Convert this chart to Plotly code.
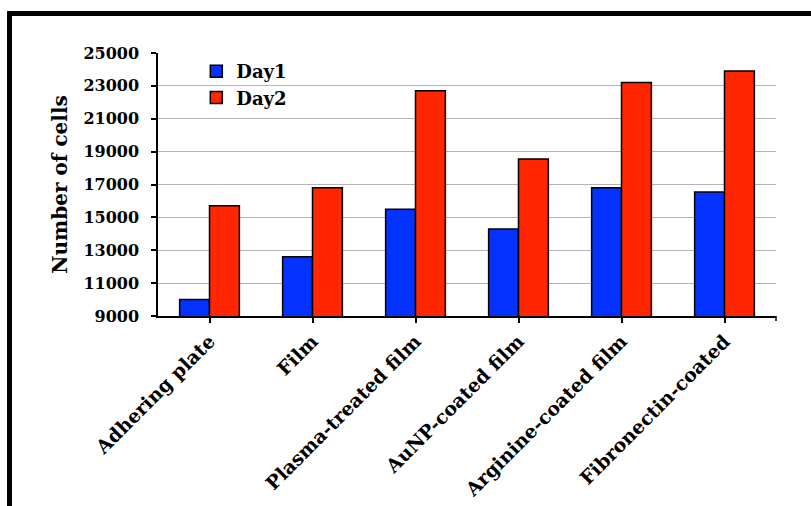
import plotly.graph_objects as go

categories = ["Adhering plate", "Film", "Plasma-treated film",
              "AuNP-coated film", "Arginine-coated film", "Fibronectin-coated"]
day1 = [10000, 12600, 15500, 14300, 16800, 16550]
day2 = [15700, 16800, 22700, 18550, 23200, 23900]
y_ticks = [9000, 11000, 13000, 15000, 17000, 19000, 21000, 23000, 25000]

FONT = "DejaVu Serif"
W, H = 811, 506
L, R, T, B = 158, 35, 53, 190

fig = go.Figure()
fig.add_trace(go.Bar(name="Day1", x=categories, y=day1,
                     marker=dict(color="#0433FF", line=dict(color="black", width=1.5))))
fig.add_trace(go.Bar(name="Day2", x=categories, y=day2,
                     marker=dict(color="#FF2600", line=dict(color="black", width=1.5))))

pw = W - L - R
ph = H - T - B
# outer black frame running off the right and bottom edges
fig.add_shape(type="rect", xref="paper", yref="paper",
              x0=(9.5 - L) / pw, x1=(W + 20 - L) / pw,
              y0=-(H + 20 - T - ph) / ph, y1=(H - B - 13.5) / ph,
              line=dict(color="black", width=5), fillcolor="rgba(0,0,0,0)", layer="above")
# closing tick at the right end of the category axis
fig.add_shape(type="line", xref="paper", yref="paper",
              x0=1, x1=1, y0=0, y1=-5 / ph,
              line=dict(color="black", width=1.5))

fig.update_layout(
    width=W, height=H,
    margin=dict(l=L, r=R, t=T, b=B),
    paper_bgcolor="white", plot_bgcolor="white",
    barmode="group", bargap=0.42, bargroupgap=0,
    font=dict(family=FONT, size=15, color="black", weight="bold"),
    showlegend=True,
    legend=dict(x=0.062, y=1.0, xanchor="left", yanchor="top",
                bgcolor="rgba(0,0,0,0)", font=dict(size=18, weight="bold"),
                tracegroupgap=0, itemwidth=30),
    xaxis=dict(showline=True, linecolor="black", linewidth=1.5,
               ticks="outside", ticklen=5, tickcolor="black", tickwidth=1.5,
               tickangle=-45, tickfont=dict(size=19, weight="bold"),
               showgrid=False, automargin=False),
    yaxis=dict(range=[9000, 25000], tickvals=y_ticks,
               ticktext=[str(v) for v in y_ticks],
               showline=True, linecolor="black", linewidth=1.5,
               ticks="outside", ticklen=5, tickcolor="black", tickwidth=1.5,
               tickfont=dict(size=16, weight="bold"), ticklabelstandoff=9,
               showgrid=True, gridcolor="#B4B4B4", gridwidth=1.2,
               zeroline=False, automargin=False,
               title=dict(text="Number of cells", font=dict(size=20, weight="bold"),
                          standoff=10)),
)

fig.write_html("out.html")
